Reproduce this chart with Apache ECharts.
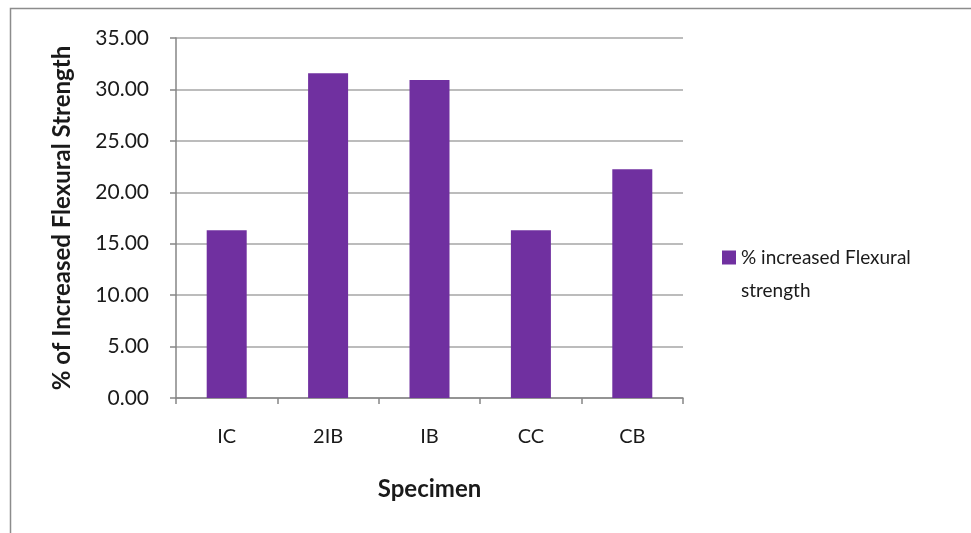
<!DOCTYPE html>
<html>
<head>
<meta charset="utf-8">
<script src="https://cdn.jsdelivr.net/npm/echarts@6/dist/echarts.min.js"></script>
<style>
  html, body { margin: 0; padding: 0; background: #ffffff; }
  #chart { width: 971px; height: 533px; }
</style>
</head>
<body>
<div id="chart"></div>
<script>
// Specimen categories and their % increase in flexural strength
const specimens = ['IC', '2IB', 'IB', 'CC', 'CB'];
const increasedFlexural = [16.3, 31.57, 30.92, 16.3, 22.23];
const seriesName = '% increased Flexural strength';
const legendLines = ['% increased Flexural', 'strength'];
const yAxisTitle = '% of Increased Flexural Strength';
const xAxisTitle = 'Specimen';

const fontFamily = 'Lato, "Open Sans", sans-serif';
const textColor = '#1a1a1a';
const axisGray = '#868686';

const chart = echarts.init(document.getElementById('chart'), null, { renderer: 'canvas' });

chart.setOption({
  animation: false,
  backgroundColor: '#ffffff',
  graphic: [
    {
      // outer chart frame (only top and left edges fall inside the canvas)
      type: 'rect',
      shape: { x: 10.5, y: 8.5, width: 1000, height: 600 },
      style: { fill: 'none', stroke: '#8c8c8c', lineWidth: 1.5 },
      silent: true
    }
  ],
  grid: { left: 176, right: 288, top: 38, bottom: 135, containLabel: false },
  legend: {
    left: 722,
    top: 208,
    padding: 0,
    orient: 'vertical',
    itemWidth: 14,
    itemHeight: 14,
    icon: 'rect',
    // leading blank line keeps the first text line level with the swatch
    formatter: () => '\n' + legendLines.join('\n'),
    textStyle: {
      fontFamily: fontFamily,
      fontSize: 19,
      color: textColor,
      lineHeight: 33
    },
    data: [seriesName]
  },
  xAxis: {
    type: 'category',
    data: specimens,
    name: xAxisTitle,
    nameLocation: 'middle',
    nameGap: 79,
    nameTextStyle: { fontFamily: fontFamily, fontSize: 24, fontWeight: 'bold', color: textColor },
    boundaryGap: true,
    axisLine: { lineStyle: { color: axisGray, width: 1.5 } },
    axisTick: { show: true, alignWithLabel: false, length: 6, lineStyle: { color: axisGray, width: 1.5 } },
    axisLabel: { fontFamily: fontFamily, fontSize: 20, color: textColor, margin: 29 },
    splitLine: { show: false }
  },
  yAxis: {
    type: 'value',
    min: 0,
    max: 35,
    interval: 5,
    name: yAxisTitle,
    nameLocation: 'middle',
    nameGap: 102,
    nameRotate: 90,
    nameTextStyle: { fontFamily: fontFamily, fontSize: 24, fontWeight: 'bold', color: textColor },
    axisLine: { show: true, lineStyle: { color: axisGray, width: 1.5 } },
    axisTick: { show: true, length: 6, lineStyle: { color: axisGray, width: 1.5 } },
    axisLabel: {
      fontFamily: fontFamily,
      fontSize: 21,
      color: textColor,
      margin: 27,
      formatter: v => v.toFixed(2)
    },
    splitLine: { show: true, lineStyle: { color: '#a6a6a6', width: 1.5 } }
  },
  series: [
    {
      name: seriesName,
      type: 'bar',
      data: increasedFlexural,
      barWidth: 40,
      itemStyle: { color: '#7030A0' }
    }
  ]
});
</script>
</body>
</html>
